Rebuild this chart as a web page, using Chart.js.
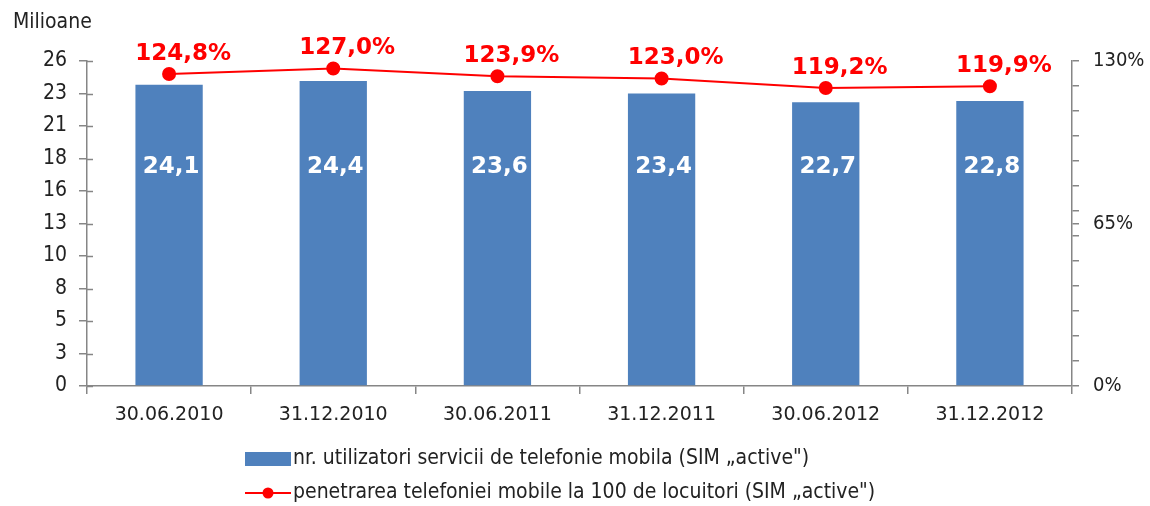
<!DOCTYPE html>
<html>
<head>
<meta charset="utf-8">
<script src="https://cdn.jsdelivr.net/npm/chart.js@4.4.1/dist/chart.umd.min.js"></script>
<style>
  html, body { margin: 0; padding: 0; background: #fff; }
  #wrap { width: 1150px; height: 506px; }
</style>
</head>
<body>
<div id="wrap"><canvas id="chart" width="1150" height="506"></canvas></div>
<script>
// ---- data ----
const categories = ['30.06.2010', '31.12.2010', '30.06.2011', '31.12.2011', '30.06.2012', '31.12.2012'];
const users = [24.1, 24.4, 23.6, 23.4, 22.7, 22.8];              // milioane
const penetration = [124.8, 127.0, 123.9, 123.0, 119.2, 119.9];  // %
const leftTickLabels = ['0', '3', '5', '8', '10', '13', '16', '18', '21', '23', '26'];
const leftMax = 26;
const rightTickValues = [0, 10, 20, 30, 40, 50, 60, 65, 70, 80, 90, 100, 110, 120, 130];
const rightTickLabels = { 0: '0%', 65: '65%', 130: '130%' };
const rightMax = 130;
const legendLabels = [
    'nr. utilizatori servicii de telefonie mobila (SIM \u201eactive")',
    'penetrarea telefoniei mobile la 100 de locuitori (SIM \u201eactive")'
];

const BLUE = '#4f81bd';
const RED = '#ff0000';
const AXIS = '#868686';
const TEXT = '#222222';
const FONT = '"DejaVu Sans Condensed", "DejaVu Sans", sans-serif';
const FONT_WIDE = '"DejaVu Sans", sans-serif';

function fmt(v) {
    return v.toFixed(1).replace('.', ',');
}

// valori, eticheta axei, legenda
const extrasPlugin = {
    id: 'extras',
    afterDatasetsDraw(chart) {
        const ctx = chart.ctx;
        const yL = chart.scales.y;
        ctx.save();
        ctx.textAlign = 'center';
        ctx.textBaseline = 'middle';

        // valori pe bare
        ctx.font = 'bold 23px ' + FONT_WIDE;
        ctx.fillStyle = '#ffffff';
        chart.getDatasetMeta(1).data.forEach((bar, i) => {
            ctx.fillText(fmt(users[i]), bar.x + 2, yL.getPixelForValue(17.5));
        });

        // valori pe linie
        ctx.fillStyle = RED;
        chart.getDatasetMeta(0).data.forEach((pt, i) => {
            ctx.fillText(fmt(penetration[i]) + '%', pt.x + 14, pt.y - 20);
        });
        ctx.restore();
    },
    afterDraw(chart) {
        const ctx = chart.ctx;
        const area = chart.chartArea;
        const yL = chart.scales.y;
        ctx.save();

        // liniutele interioare ale axei din stanga
        ctx.strokeStyle = AXIS;
        ctx.lineWidth = 1.5;
        yL.ticks.forEach(t => {
            const y = Math.round(yL.getPixelForValue(t.value)) + 0.5;
            ctx.beginPath();
            ctx.moveTo(area.left, y);
            ctx.lineTo(area.left + 6, y);
            ctx.stroke();
        });

        // "Milioane"
        ctx.fillStyle = TEXT;
        ctx.font = '21px ' + FONT;
        ctx.textAlign = 'left';
        ctx.textBaseline = 'middle';
        ctx.fillText('Milioane', 13, 23);

        // legenda
        const lx = 245;
        const y1 = area.bottom + 73;
        const y2 = area.bottom + 107;
        ctx.fillStyle = BLUE;
        ctx.fillRect(lx, y1 - 7, 46, 14);
        ctx.strokeStyle = RED;
        ctx.lineWidth = 2;
        ctx.beginPath();
        ctx.moveTo(lx, y2);
        ctx.lineTo(lx + 46, y2);
        ctx.stroke();
        ctx.fillStyle = RED;
        ctx.beginPath();
        ctx.arc(lx + 23, y2, 5.5, 0, Math.PI * 2);
        ctx.fill();

        ctx.fillStyle = TEXT;
        ctx.font = '21px ' + FONT;
        ctx.fillText(legendLabels[0], lx + 48, y1);
        ctx.fillText(legendLabels[1], lx + 48, y2);
        ctx.restore();
    }
};

const ctx = document.getElementById('chart').getContext('2d');
const chart = new Chart(ctx, {
    data: {
        labels: categories,
        datasets: [
            {
                type: 'line',
                label: legendLabels[1],
                data: penetration,
                yAxisID: 'y1',
                borderColor: RED,
                backgroundColor: RED,
                borderWidth: 2,
                pointRadius: 6,
                pointHoverRadius: 6,
                tension: 0,
                order: 0
            },
            {
                type: 'bar',
                label: legendLabels[0],
                data: users,
                yAxisID: 'y',
                backgroundColor: BLUE,
                borderWidth: 0,
                barPercentage: 0.41,
                categoryPercentage: 1,
                order: 1
            }
        ]
    },
    options: {
        responsive: false,
        animation: false,
        layout: { padding: { top: 61, bottom: 80, left: 0, right: 0 } },
        plugins: {
            legend: { display: false },
            tooltip: { enabled: false }
        },
        scales: {
            x: {
                grid: { display: true, offset: true, drawOnChartArea: false, tickLength: 8, color: AXIS, lineWidth: 1.5 },
                border: { color: AXIS, width: 1.5 },
                ticks: { color: TEXT, font: { family: FONT_WIDE, size: 19 }, padding: 10, maxRotation: 0 },
                afterFit(scale) { scale.height = 40; }
            },
            y: {
                position: 'left',
                min: 0,
                max: leftMax,
                grid: { drawOnChartArea: false, tickLength: 8, color: AXIS, lineWidth: 1.5 },
                border: { color: AXIS, width: 1.5 },
                afterBuildTicks(scale) {
                    scale.ticks = leftTickLabels.map((_, i) => ({ value: i * leftMax / (leftTickLabels.length - 1) }));
                },
                ticks: {
                    color: TEXT,
                    font: { family: FONT, size: 21 },
                    padding: 12,
                    autoSkip: false,
                    callback: (v, i) => leftTickLabels[i]
                },
                afterFit(scale) { scale.width = 87; }
            },
            y1: {
                position: 'right',
                min: 0,
                max: rightMax,
                grid: { drawOnChartArea: false, tickLength: 7, color: AXIS, lineWidth: 1.5 },
                border: { color: AXIS, width: 1.5 },
                afterBuildTicks(scale) {
                    scale.ticks = rightTickValues.map(v => ({ value: v }));
                },
                ticks: {
                    color: TEXT,
                    font: { family: FONT, size: 20 },
                    padding: 14,
                    autoSkip: false,
                    callback: v => rightTickLabels[v] || ''
                },
                afterFit(scale) { scale.width = 78; }
            }
        }
    },
    plugins: [extrasPlugin]
});
</script>
</body>
</html>
